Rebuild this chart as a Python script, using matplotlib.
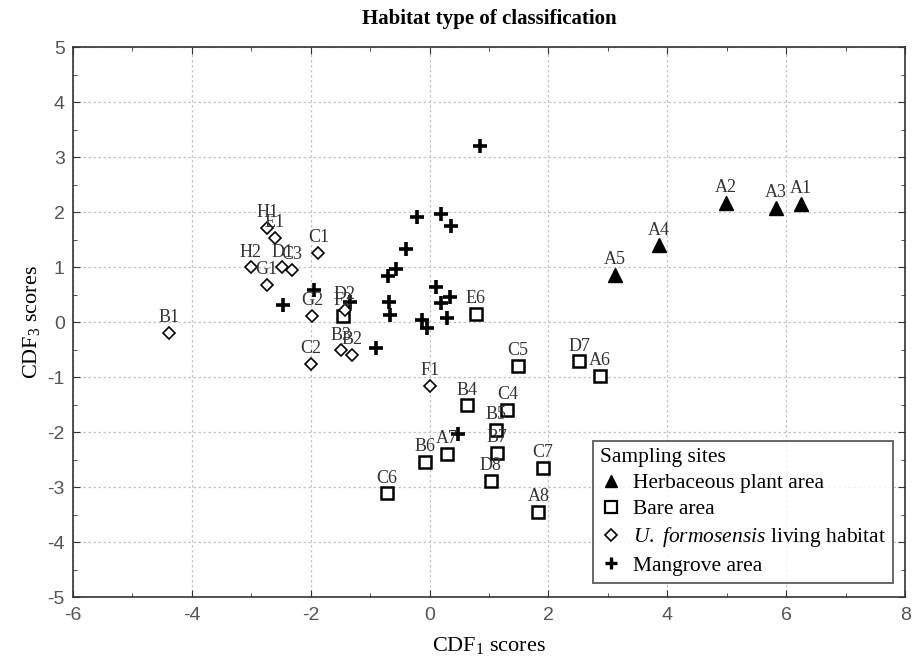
import matplotlib
matplotlib.use("Agg")
import matplotlib.pyplot as plt
from matplotlib.ticker import MultipleLocator
from matplotlib.lines import Line2D

plt.rcParams["mathtext.fontset"] = "custom"
plt.rcParams["mathtext.it"] = "Liberation Serif:italic"
plt.rcParams["mathtext.rm"] = "Liberation Serif"
plt.rcParams["axes.unicode_minus"] = False

# Herbaceous plant area (triangles)
herb_labels = ["A1", "A2", "A3", "A4", "A5"]
herb_x = [6.25, 4.98, 5.82, 3.86, 3.12]
herb_y = [2.15, 2.18, 2.09, 1.40, 0.86]

# Bare area (squares)
bare_labels = ["D7", "A6", "C5", "B4", "C4", "B5", "B7", "A7", "B6", "C6", "D8", "C7", "A8", "E6", "F2"]
bare_x = [2.52, 2.87, 1.48, 0.63, 1.31, 1.12, 1.14, 0.29, -0.08, -0.72, 1.03, 1.90, 1.83, 0.78, -1.46]
bare_y = [-0.71, -0.97, -0.80, -1.51, -1.59, -1.95, -2.38, -2.39, -2.54, -3.11, -2.89, -2.64, -3.44, 0.15, 0.11]

# U. formosensis living habitat (diamonds)
uf_labels = ["B1", "H2", "G1", "D1", "C3", "C1", "G2", "C2", "B3", "B2", "H1", "E1", "F1", "D2"]
uf_x = [-4.38, -3.01, -2.74, -2.48, -2.32, -1.87, -1.98, -2.00, -1.49, -1.30, -2.73, -2.60, 0.00, -1.43]
uf_y = [-0.19, 1.00, 0.68, 1.00, 0.95, 1.27, 0.11, -0.75, -0.51, -0.59, 1.71, 1.53, -1.15, 0.22]

# Mangrove area (crosses)
man_x = [0.84, -0.22, 0.20, 0.36, -0.40, -0.57, -0.70, 0.11, 0.34, 0.20, -0.68, -0.67,
         0.29, -0.13, -0.05, -0.90, -1.34, -1.94, -2.46, 0.47]
man_y = [3.20, 1.92, 1.98, 1.76, 1.33, 0.97, 0.85, 0.65, 0.47, 0.36, 0.38, 0.14,
         0.08, 0.05, -0.11, -0.47, 0.38, 0.59, 0.32, -2.03]

serif = "Liberation Serif"
sans = "Liberation Sans"

fig = plt.figure(figsize=(9.17, 6.66), dpi=100)
ax = fig.add_axes([0.0796, 0.103, 0.9074, 0.8257])

ax.set_xlim(-6, 8)
ax.set_ylim(-5, 5)
ax.xaxis.set_major_locator(MultipleLocator(2))
ax.xaxis.set_minor_locator(MultipleLocator(1))
ax.yaxis.set_major_locator(MultipleLocator(1))
ax.yaxis.set_minor_locator(MultipleLocator(0.5))
ax.tick_params(which="both", direction="in", top=True, right=True, colors="#333333",
               labelcolor="#555555", labelsize=14)
ax.tick_params(which="major", length=5)
ax.tick_params(which="minor", length=3)
for lab in ax.get_xticklabels() + ax.get_yticklabels():
    lab.set_family(sans)
ax.tick_params(axis="x", pad=7)
ax.tick_params(axis="y", pad=6)
ax.grid(True, which="major", linestyle=(0, (2, 2)), color="#c4c4c4", linewidth=0.9)
ax.set_axisbelow(True)
for sp in ax.spines.values():
    sp.set_linewidth(1.2)
    sp.set_color("#333333")

ax.plot(herb_x, herb_y, linestyle="none", marker="^", markersize=10, color="black")
ax.plot(bare_x, bare_y, linestyle="none", marker="s", markersize=9, markerfacecolor="white",
        markeredgecolor="black", markeredgewidth=1.8)
ax.plot(uf_x, uf_y, linestyle="none", marker="D", markersize=6, markerfacecolor="white",
        markeredgecolor="black", markeredgewidth=1.2)
ax.plot(man_x, man_y, linestyle="none", marker="+", markersize=10, markeredgewidth=2.6, color="black")

for labs, xs, ys in [(herb_labels, herb_x, herb_y), (bare_labels, bare_x, bare_y), (uf_labels, uf_x, uf_y)]:
    for t, x, y in zip(labs, xs, ys):
        ax.annotate(t, (x, y), xytext=(0, 5), textcoords="offset points", ha="center",
                    va="bottom", fontsize=13, family=serif, color="#333333")

ax.set_title("Habitat type of classification", family=serif, fontsize=15, fontweight="bold",
             pad=17)
ax.set_xlabel("CDF$_1$ scores", family=serif, fontsize=16, labelpad=8)
ax.set_ylabel("CDF$_3$ scores", family=serif, fontsize=16, labelpad=4)

handles = [
    Line2D([], [], linestyle="none", marker="^", markersize=9, color="black"),
    Line2D([], [], linestyle="none", marker="s", markersize=8, markerfacecolor="white",
           markeredgecolor="black", markeredgewidth=1.6),
    Line2D([], [], linestyle="none", marker="D", markersize=6, markerfacecolor="white",
           markeredgecolor="black", markeredgewidth=1.2),
    Line2D([], [], linestyle="none", marker="+", markersize=9, markeredgewidth=2.4, color="black"),
]
labels = ["Herbaceous plant area", "Bare area", "$\\it{U.\\ formosensis}$ living habitat",
          "Mangrove area"]
leg = ax.legend(handles, labels, title="Sampling sites", loc="lower right",
                bbox_to_anchor=(0.986, 0.026), prop={"family": serif, "size": 15.5},
                title_fontproperties={"family": serif, "size": 15.5}, frameon=True,
                fancybox=False, edgecolor="#333333", handlelength=1.0, handletextpad=0.5,
                borderpad=0.35, labelspacing=0.28, alignment="left", borderaxespad=0)
leg.get_frame().set_linewidth(1.3)

fig.savefig("out.png", dpi=100)
